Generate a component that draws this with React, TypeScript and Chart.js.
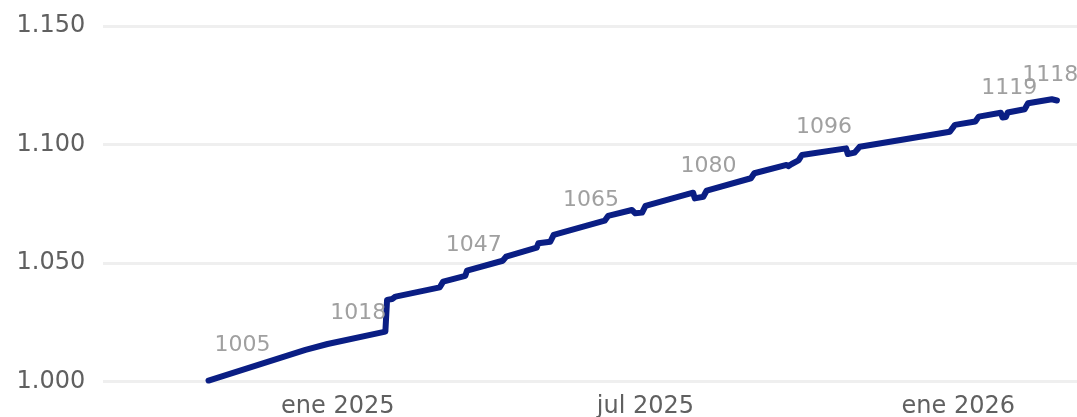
import React, { useEffect, useRef } from "react";
import { Chart, registerables } from "chart.js";

Chart.register(...registerables);

// ---- data ----
const BASE_DATE = "2025-01-01";

const dates = [
  "2024-10-17", "2024-12-13", "2024-12-26", "2025-01-29", "2025-01-30",
  "2025-02-02", "2025-02-04", "2025-03-02", "2025-03-04", "2025-03-17",
  "2025-03-18", "2025-04-08", "2025-04-10", "2025-04-28", "2025-04-29",
  "2025-05-06", "2025-05-08", "2025-06-07", "2025-06-09", "2025-06-23",
  "2025-06-25", "2025-06-29", "2025-07-01", "2025-07-29", "2025-07-30",
  "2025-08-04", "2025-08-06", "2025-09-01", "2025-09-03", "2025-09-22",
  "2025-09-23", "2025-09-25", "2025-09-29", "2025-10-01", "2025-10-27",
  "2025-10-28", "2025-11-01", "2025-11-04", "2025-11-28", "2025-12-27",
  "2025-12-30", "2026-01-11", "2026-01-13", "2026-01-26", "2026-01-27",
  "2026-01-29", "2026-01-30", "2026-02-09", "2026-02-11", "2026-02-25",
  "2026-02-28",
];

const values = [
  1000.5, 1013.4, 1015.9, 1021.1, 1034.5,
  1034.9, 1035.9, 1039.8, 1042.2, 1044.6,
  1046.8, 1051.0, 1052.7, 1056.5, 1058.4,
  1059.0, 1061.9, 1067.9, 1069.9, 1072.4,
  1071.0, 1071.3, 1074.1, 1079.7, 1077.3,
  1078.0, 1080.6, 1085.8, 1087.9, 1091.4,
  1090.9, 1091.8, 1093.3, 1095.6, 1098.4,
  1096.0, 1096.6, 1099.1, 1101.9, 1105.4,
  1108.3, 1109.7, 1111.8, 1113.4, 1111.4,
  1111.6, 1113.5, 1114.9, 1117.4, 1119.1,
  1118.6,
];

const xTickDates = ["2025-01-01", "2025-07-01", "2026-01-01"];
const xTickLabels = ["ene 2025", "jul 2025", "ene 2026"];
const yTicks = [1000, 1050, 1100, 1150];

const labelDates = [
  "2024-11-06", "2025-01-13", "2025-03-22", "2025-05-30",
  "2025-08-07", "2025-10-14", "2026-01-31", "2026-02-24",
];
const labelTexts = ["1005", "1018", "1047", "1065", "1080", "1096", "1119", "1118"];

// ---- helpers ----
const DAY = 86400000;
const dayOf = (d: string) => (Date.parse(d) - Date.parse(BASE_DATE)) / DAY;
const days = dates.map(dayOf);

const interp = (dx: number) => {
  if (dx <= days[0]) return values[0];
  for (let i = 1; i < days.length; i++) {
    if (dx <= days[i]) {
      const t = (dx - days[i - 1]) / (days[i] - days[i - 1]);
      return values[i - 1] + t * (values[i] - values[i - 1]);
    }
  }
  return values[values.length - 1];
};

const fmtThousands = (v: number) =>
  String(Math.round(v)).replace(/\B(?=(\d{3})+(?!\d))/g, ".");

const FONT = "'DejaVu Sans', Verdana, sans-serif";

const labelPlugin = {
  id: "pointLabels",
  afterDatasetsDraw(chart: any) {
    const { ctx } = chart;
    const x = chart.scales.x;
    const y = chart.scales.y;
    ctx.save();
    ctx.font = `22px ${FONT}`;
    ctx.fillStyle = "#a0a0a0";
    ctx.textAlign = "center";
    ctx.textBaseline = "middle";
    labelDates.forEach((d, i) => {
      const dx = dayOf(d);
      const v = interp(dx);
      ctx.fillText(labelTexts[i], x.getPixelForValue(dx), y.getPixelForValue(v) - 24);
    });
    ctx.restore();
  },
};

export default function App() {
  const ref = useRef<HTMLCanvasElement>(null);

  useEffect(() => {
    if (!ref.current) return;
    const chart = new Chart(ref.current, {
      type: "line",
      data: {
        datasets: [
          {
            data: days.map((d, i) => ({ x: d, y: values[i] })),
            borderColor: "#0a1e84",
            borderWidth: 6,
            borderCapStyle: "round",
            borderJoinStyle: "round",
            pointRadius: 0,
            tension: 0,
            fill: false,
            clip: false,
          },
        ],
      },
      options: {
        animation: false,
        responsive: false,
        layout: { padding: { top: 26, right: 0, left: 0, bottom: 0 } },
        plugins: {
          legend: { display: false },
          tooltip: { enabled: false },
        },
        scales: {
          x: {
            type: "linear",
            min: -137.9,
            max: 434.8,
            grid: { display: false },
            border: { display: false },
            afterBuildTicks: (scale: any) => {
              scale.ticks = xTickDates.map((d) => ({ value: dayOf(d) }));
            },
            afterFit: (scale: any) => {
              scale.height = 35.3;
              scale.paddingLeft = 0;
              scale.paddingRight = 0;
            },
            ticks: {
              padding: 3,
              maxRotation: 0,
              autoSkip: false,
              color: "#606060",
              font: { family: FONT, size: 24 },
              callback: (v: any) => {
                const idx = xTickDates.findIndex((d) => dayOf(d) === v);
                return idx >= 0 ? xTickLabels[idx] : "";
              },
            },
          },
          y: {
            type: "linear",
            min: yTicks[0],
            max: yTicks[yTicks.length - 1],
            afterBuildTicks: (scale: any) => {
              scale.ticks = yTicks.map((v) => ({ value: v }));
            },
            afterFit: (scale: any) => {
              scale.width = 103.3;
              scale.paddingTop = 0;
              scale.paddingBottom = 0;
            },
            grid: { color: "#efefef", lineWidth: 3, drawTicks: false },
            border: { display: false },
            ticks: {
              padding: 18,
              color: "#606060",
              font: { family: FONT, size: 24 },
              callback: (v: any) => fmtThousands(Number(v)),
            },
          },
        },
      },
      plugins: [labelPlugin],
    } as any);
    return () => chart.destroy();
  }, []);

  return (
    <div style={{ position: "fixed", left: 0, top: 0, width: 1077, height: 417, background: "#fff" }}>
      <canvas ref={ref} width={1077} height={417} style={{ display: "block" }} />
    </div>
  );
}
